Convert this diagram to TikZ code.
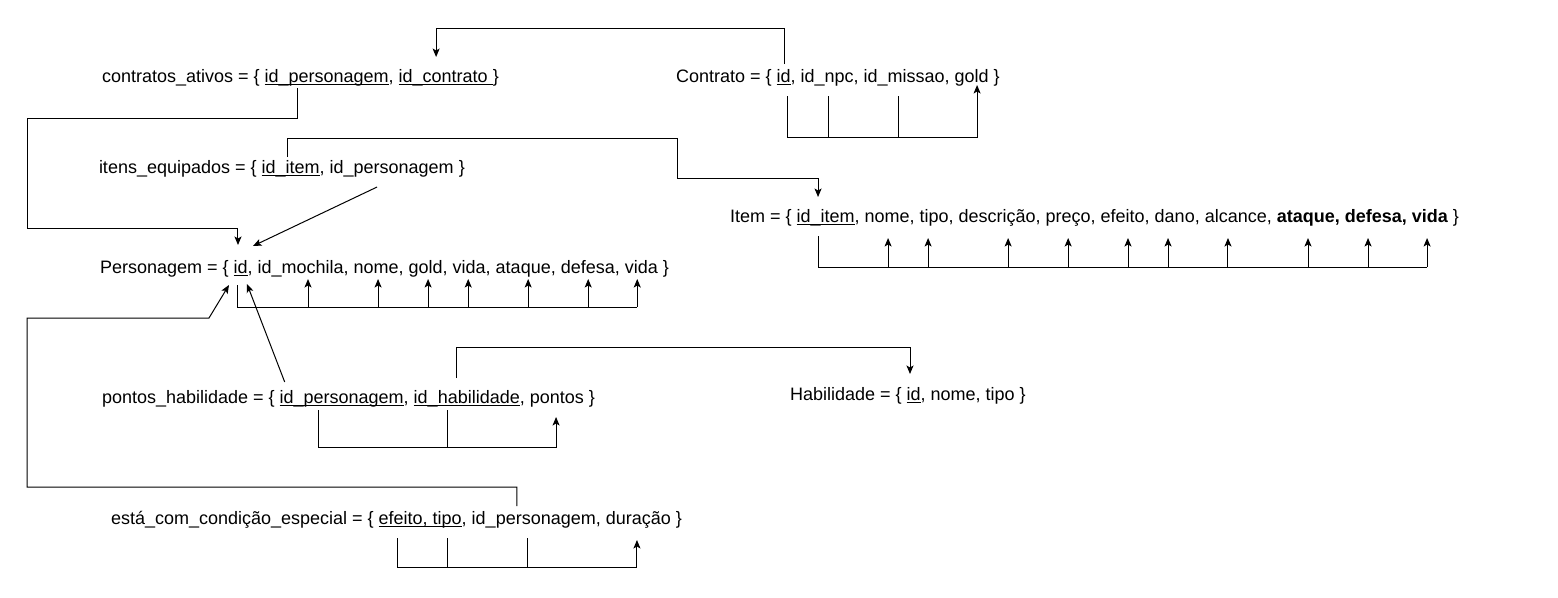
\documentclass[tikz,border=0pt]{standalone}
\usepackage{fontspec}
\setmainfont{Liberation Sans}
\usetikzlibrary{arrows.meta}

\newlength\sepw
\newlength\kulw
% a word space that survives at the end of a node
\newcommand\gapsp{\ \null}
% underlined key attribute
\newcommand\keyul[1]{\settowidth{\kulw}{#1}\rlap{\rule[-2.8pt]{\kulw}{0.9pt}}#1\null}
% comma that follows an attribute without widening its node
\newcommand\cm{\rlap{,}}

\tikzset{
  w/.style={inner sep=0pt, outer sep=0pt, anchor=base west,
    text height=13pt, text depth=4pt, font=\fontsize{18}{21.6}\selectfont},
  nx/.style={at={([xshift=\sepw]#1.base east)}},
  arr/.style={-{Stealth[length=8.5pt,width=7pt,inset=2pt]}},
}

\begin{document}
\settowidth{\sepw}{\fontsize{18}{21.6}\selectfont ,\ }
\begin{tikzpicture}[x=1pt,y=-1pt,line width=1pt]
\fill[white] (0,0) rectangle (1558,597);
\useasboundingbox (0,0) rectangle (1558,597);

% contratos_ativos
\node[w] (ca) at (102,82) {contratos\_ativos = \{\gapsp};
\node[w] (cap) at (ca.base east) {\keyul{id\_personagem}\cm};
\node[w, nx=cap] (cac) {\keyul{id\_contrato\ }};
\node[w] (cae) at (cac.base east) {\}};

% Contrato
\node[w] (k) at (676,82) {Contrato = \{\gapsp};
\node[w] (kid) at (k.base east) {\keyul{id}\cm};
\node[w, nx=kid] (knpc) {id\_npc\cm};
\node[w, nx=knpc] (kmis) {id\_missao\cm};
\node[w, nx=kmis] (kgold) {gold};
\node[w] (ke) at (kgold.base east) {\ \}};

% itens_equipados
\node[w] (t) at (99,173) {itens\_equipados = \{\gapsp};
\node[w] (tid) at (t.base east) {\keyul{id\_item}\cm};
\node[w, nx=tid] (tpe) {id\_personagem};
\node[w] (te) at (tpe.base east) {\ \}};

% Personagem
\node[w] (p) at (100,273) {Personagem = \{\gapsp};
\node[w] (pid) at (p.base east) {\keyul{id}\cm};
\node[w, nx=pid] (pmo) {id\_mochila\cm};
\node[w, nx=pmo] (pno) {nome\cm};
\node[w, nx=pno] (pgo) {gold\cm};
\node[w, nx=pgo] (pvi) {vida\cm};
\node[w, nx=pvi] (pat) {ataque\cm};
\node[w, nx=pat] (pde) {defesa\cm};
\node[w, nx=pde] (pv2) {vida};
\node[w] (pe) at (pv2.base east) {\ \}};

% Item
\node[w] (i) at (730,222) {Item = \{\gapsp};
\node[w] (iid) at (i.base east) {\keyul{id\_item}\cm};
\node[w, nx=iid] (ino) {nome\cm};
\node[w, nx=ino] (iti) {tipo\cm};
\node[w, nx=iti] (ide) {descrição\cm};
\node[w, nx=ide] (ipr) {preço\cm};
\node[w, nx=ipr] (ief) {efeito\cm};
\node[w, nx=ief] (ida) {dano\cm};
\node[w, nx=ida] (ial) {alcance\cm};
\node[w, nx=ial] (iat) {\bfseries ataque\cm};
\node[w, nx=iat] (ids) {\bfseries defesa\cm};
\node[w, nx=ids] (ivi) {\bfseries vida};
\node[w] (ie) at (ivi.base east) {\ \}};

% pontos_habilidade
\node[w] (h) at (102,403) {pontos\_habilidade = \{\gapsp};
\node[w] (hpe) at (h.base east) {\keyul{id\_personagem}\cm};
\node[w, nx=hpe] (hha) {\keyul{id\_habilidade}\cm};
\node[w, nx=hha] (hpo) {pontos};
\node[w] (he) at (hpo.base east) {\ \}};

% Habilidade
\node[w] (b) at (790,400) {Habilidade = \{\gapsp};
\node[w] (bid) at (b.base east) {\keyul{id}\cm};
\node[w, nx=bid] (bre) {nome, tipo \}};

% está_com_condição_especial
\node[w] (e) at (111,524) {está\_com\_condição\_especial = \{\gapsp};
\node[w] (eef) at (e.base east) {\keyul{efeito,\ }};
\node[w] (eti) at (eef.base east) {\keyul{tipo}\cm};
\node[w, nx=eti] (epe) {id\_personagem\cm};
\node[w, nx=epe] (edu) {duração};
\node[w] (ee) at (edu.base east) {\ \}};

% routing points
\coordinate (ya) at (0,28);
\coordinate (b1) at (27,118);
\coordinate (b2) at (27,228);
\coordinate (c1) at (677,138);
\coordinate (c2) at (677,178);
\coordinate (g1) at (27,487);
\coordinate (g2) at (27,318);
\coordinate (g3) at (209,318);
\coordinate (hb) at (0,347);
\coordinate (kbase) at (0,137);
\coordinate (pbase) at (0,307);
\coordinate (ibase) at (0,267);
\coordinate (hbase) at (0,447);
\coordinate (ebase) at (0,567);

% Contrato.id -> contratos_ativos.id_contrato
\draw[arr] ([xshift=1.4pt,yshift=5pt]kid.north) -- ([xshift=1.4pt]kid.north |- ya)
  -| ([xshift=-9.6pt,yshift=12pt]cac.north);
% contratos_ativos.id_personagem -> Personagem.id
\draw[arr] ([xshift=-29.6pt,yshift=-2pt]cap.south) |- (b1) -- (b2)
  -| ([xshift=-2.6pt,yshift=15pt]pid.north);
% itens_equipados.id_item -> Item.id_item
\draw[arr] ([xshift=-3.6pt,yshift=3pt]tid.north) |- (c1) -- (c2)
  -| ([xshift=-7.5pt,yshift=12pt]iid.north);
% itens_equipados.id_personagem -> Personagem.id
\draw[arr] ([xshift=-14.6pt,yshift=-10pt]tpe.south) -- ([xshift=12.4pt,yshift=14pt]pid.north);
% pontos_habilidade.id_personagem -> Personagem.id
\draw[arr] ([xshift=-57pt,yshift=8pt]hpe.north) -- ([xshift=6.4pt,yshift=-7pt]pid.south);
% está_com_condição_especial.id_personagem -> Personagem.id
\draw[arr] ([xshift=-16.9pt,yshift=5pt]epe.north) |- (g1) -- (g2) -- (g3)
  -- ([xshift=-11.6pt,yshift=-8pt]pid.south);
% pontos_habilidade.id_habilidade -> Habilidade.id
\draw[arr] ([xshift=-10.4pt,yshift=12pt]hha.north) |- ([xshift=-3.6pt]bid.north |- hb)
  -- ([xshift=-3.6pt,yshift=13pt]bid.north);

% Contrato dependencies
\draw[arr] ([xshift=4.4pt,yshift=-10pt]kid.south) |- ([xshift=5.4pt]kgold.south |- kbase)
  -- ([xshift=5.4pt,yshift=1pt]kgold.south);
\draw ([xshift=0.9pt,yshift=-10pt]knpc.south) -- ([xshift=0.9pt]knpc.south |- kbase);
\draw ([xshift=-6pt,yshift=-10pt]kmis.south) -- ([xshift=-6pt]kmis.south |- kbase);

% Personagem dependencies
\draw ([xshift=-2.6pt,yshift=-8pt]pid.south) |- ([xshift=-4.1pt]pv2.south |- pbase);
\foreach \n/\d in {pmo/7.4, pno/1.9, pgo/2.4, pvi/-1, pat/4.9, pde/0.4, pv2/-4.1}
  \draw[arr] ([xshift=\d pt]\n.south |- pbase) -- ([xshift=\d pt,yshift=-2pt]\n.south);

% Item dependencies
\draw ([xshift=-7.5pt,yshift=-10pt]iid.south) |- ([xshift=-2.8pt]ivi.south |- ibase);
\foreach \n/\d in {ino/1, iti/-6, ide/11, ipr/0, ief/5.3, ida/-6.7, ial/-7.8, iat/2.2, ids/-5.3, ivi/-2.8}
  \draw[arr] ([xshift=\d pt]\n.south |- ibase) -- ([xshift=\d pt,yshift=-12pt]\n.south);

% pontos_habilidade dependencies
\draw[arr] ([xshift=-23pt,yshift=-3pt]hpe.south) |- ([xshift=-0.8pt]hpo.south |- hbase)
  -- ([xshift=-0.8pt,yshift=-10pt]hpo.south);
\draw ([xshift=-19.4pt,yshift=-3pt]hha.south) -- ([xshift=-19.4pt]hha.south |- hbase);

% está_com_condição_especial dependencies
\draw[arr] ([xshift=-7.9pt,yshift=-10pt]eef.south) |- ([xshift=-1.4pt]edu.south |- ebase)
  -- ([xshift=-1.4pt,yshift=-12pt]edu.south);
\foreach \n/\d in {eti/0.6, epe/-5.9}
  \draw ([xshift=\d pt,yshift=-10pt]\n.south) -- ([xshift=\d pt]\n.south |- ebase);
\end{tikzpicture}
\end{document}
